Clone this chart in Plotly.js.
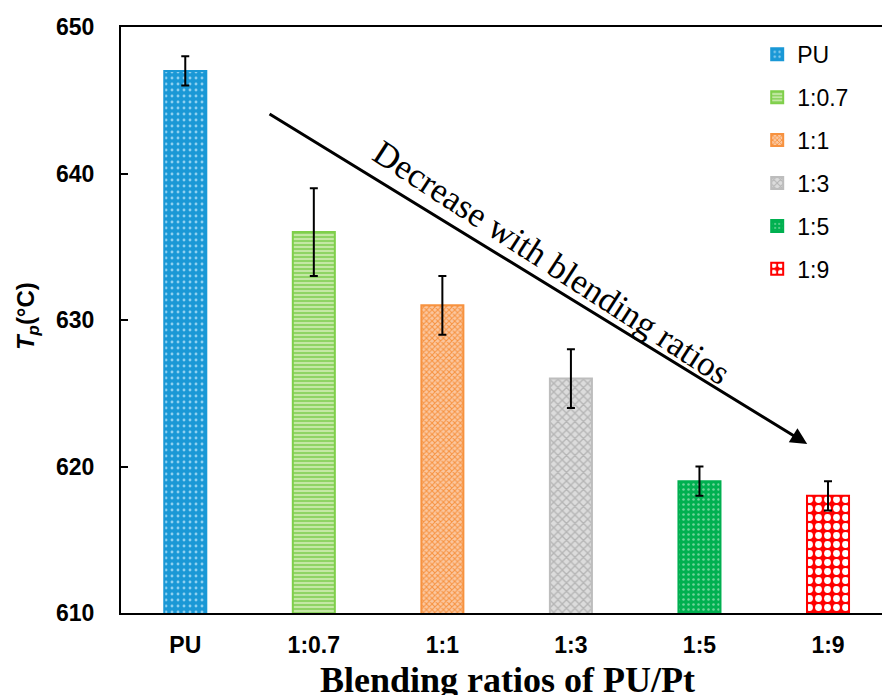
<!DOCTYPE html>
<html>
<head>
<meta charset="utf-8">
<script src="https://cdn.plot.ly/plotly-3.0.1.min.js"></script>
<style>
  html, body { margin: 0; padding: 0; background: #fff; overflow: hidden; }
  #chart { width: 882px; height: 695px; }
</style>
</head>
<body>
<div id="chart"></div>
<script>
// Peak temperature Tp for each PU/Pt blending ratio
const categories = ['PU', '1:0.7', '1:1', '1:3', '1:5', '1:9'];
const tpValues = [647, 636, 631, 626, 619, 618];
const tpErrors = [1, 3, 2, 2, 1, 1];

// Per-bar fill styles
const barColors  = ['#1a98d6', '#c4e8a4', '#fbc7a0', '#dcdcdc', '#00b050', '#ff0000'];
const lineColors = ['#1a98d6', '#7fcf4a', '#f7923f', '#bdbdbd', '#00b050', '#ff0000'];
const patShapes  = ['.', '-', 'x', 'x', '.', '.'];
const patFg      = ['#8fd0f0', '#8fd464', '#f7923f', '#b5b5b5', '#6fd49a', '#ffffff'];
const patSize    = [6, 4, 4, 6, 5, 9];
const patSolid   = [0.18, 0.5, 0.45, 0.4, 0.2, 0.45];

const traces = categories.map((c, i) => ({
  type: 'bar',
  name: c,
  legendgroup: c,
  x: [c],
  y: [tpValues[i]],
  width: 0.327,
  base: 0,
  marker: {
    color: barColors[i],
    line: { color: lineColors[i], width: 2 },
    pattern: {
      shape: patShapes[i],
      fgcolor: patFg[i],
      bgcolor: barColors[i],
      size: patSize[i],
      solidity: patSolid[i],
      fillmode: 'replace'
    }
  },
  error_y: {
    type: 'data',
    array: [tpErrors[i]],
    visible: true,
    color: '#000',
    thickness: 2,
    width: 4
  },
  hoverinfo: 'x+y'
}));

const layout = {
  width: 882,
  height: 695,
  margin: { l: 121, r: 0, t: 27, b: 82 },
  paper_bgcolor: '#fff',
  plot_bgcolor: '#fff',
  barmode: 'overlay',
  showlegend: true,
  legend: {
    x: 0.836,
    y: 0.99,
    xanchor: 'left',
    yanchor: 'top',
    bgcolor: 'rgba(0,0,0,0)',
    font: { family: 'Liberation Sans, Arial, sans-serif', size: 23, color: '#000' },
    tracegroupgap: 10
  },
  xaxis: {
    type: 'category',
    categoryorder: 'array',
    categoryarray: categories,
    range: [-0.5, 5.42],
    showline: true,
    mirror: true,
    linecolor: '#000',
    linewidth: 2,
    ticks: '',
    showgrid: false,
    zeroline: false,
    ticklabelstandoff: 10,
    tickfont: { family: 'Liberation Sans, Arial, sans-serif', size: 23, color: '#000', weight: 'bold' }
  },
  yaxis: {
    range: [610, 650],
    dtick: 10,
    showline: true,
    mirror: false,
    linecolor: '#000',
    linewidth: 2,
    ticks: 'inside',
    ticklen: 7,
    tickwidth: 2,
    tickcolor: '#000',
    showgrid: false,
    zeroline: false,
    ticklabelstandoff: 20,
    tickfont: { family: 'Liberation Sans, Arial, sans-serif', size: 23, color: '#000', weight: 'bold' }
  },
  annotations: [
    {
      // trend arrow
      xref: 'x', yref: 'y', axref: 'x', ayref: 'y',
      x: 4.838, y: 621.54,
      ax: 0.644, ay: 644.12,
      text: '',
      showarrow: true,
      arrowhead: 2,
      arrowsize: 1.1,
      arrowwidth: 3,
      arrowcolor: '#000'
    },
    {
      xref: 'x', yref: 'y',
      x: 2.846, y: 633.9,
      text: 'Decrease with blending ratios',
      showarrow: false,
      textangle: 33,
      xanchor: 'center', yanchor: 'middle',
      font: { family: 'Liberation Serif, Times New Roman, serif', size: 35, color: '#000' }
    },
    {
      // y-axis title
      xref: 'paper', yref: 'paper',
      x: -0.122, y: 0.507,
      text: '<b><i>T</i><sub><i>p</i></sub>(°C)</b>',
      showarrow: false,
      textangle: -90,
      xanchor: 'center', yanchor: 'middle',
      font: { family: 'Liberation Sans, Arial, sans-serif', size: 24, color: '#000' }
    },
    {
      // x-axis title
      xref: 'paper', yref: 'paper',
      x: 0.5085, y: -0.0762,
      text: '<b>Blending ratios of PU/Pt</b>',
      showarrow: false,
      xanchor: 'center', yanchor: 'top',
      font: { family: 'Liberation Serif, Times New Roman, serif', size: 36, color: '#000' }
    }
  ]
};

Plotly.newPlot('chart', traces, layout, { displayModeBar: false, staticPlot: true });
</script>
</body>
</html>
